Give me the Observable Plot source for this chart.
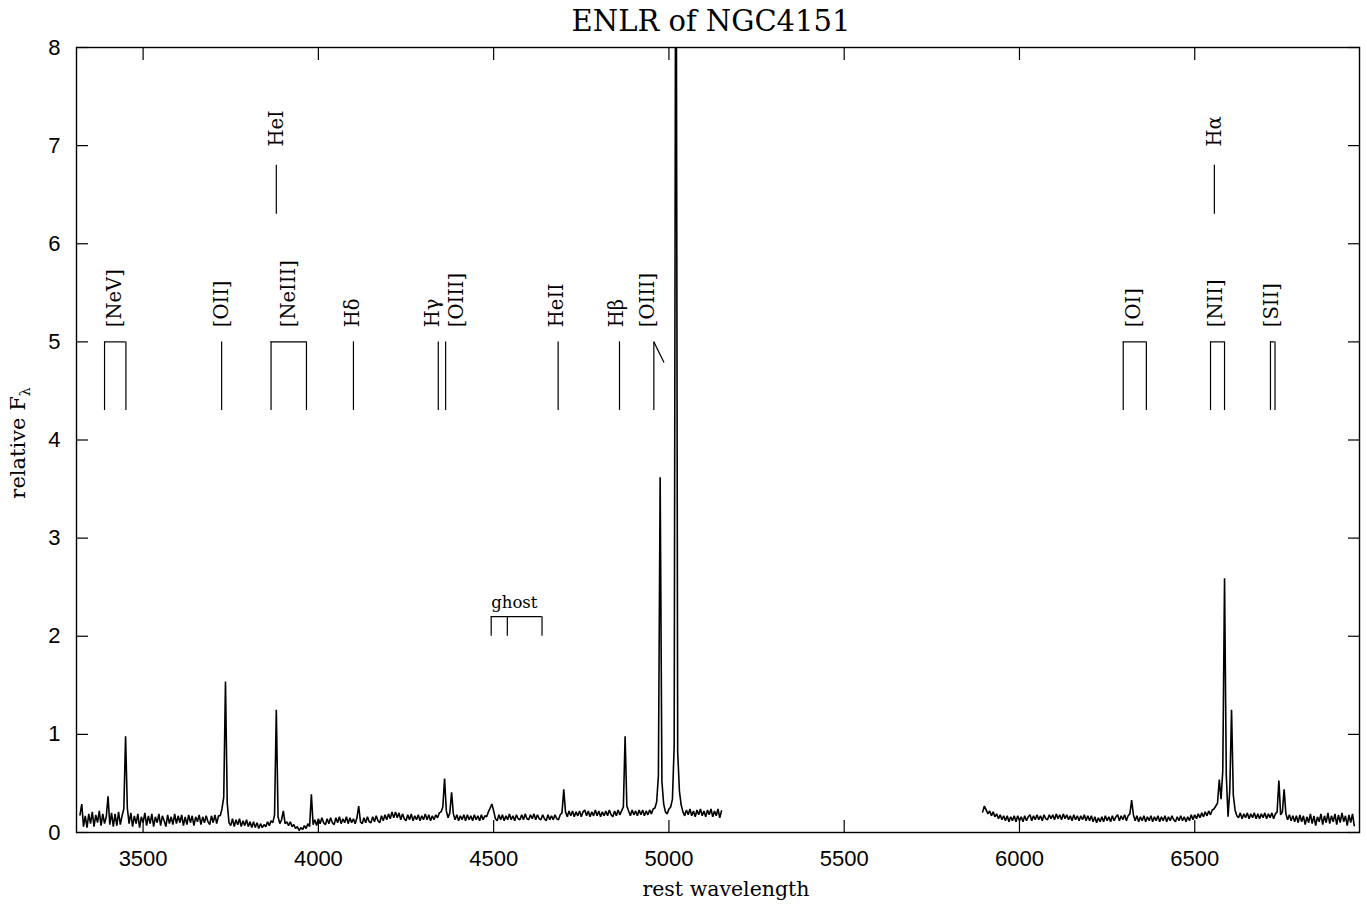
<!DOCTYPE html>
<html>
<head>
<meta charset="utf-8">
<script src="https://cdn.jsdelivr.net/npm/d3@7"></script>
<script src="https://cdn.jsdelivr.net/npm/@observablehq/plot@0.6"></script>
<style>
  html, body { margin: 0; padding: 0; background: #fff; }
</style>
</head>
<body>
<div id="chart"></div>
<script>
// ---- spectrum: flux sampled on a 5 Å pixel grid, two observed segments ----
const seg1Start = 3320;   // Å
const seg2Start = 5895;   // Å
const pixelStep = 5;      // Å per sample

const seg1Flux = [
  .18,.29,.06,.17,.05,.19,.09,.21,.06,.18,.10,.22,.07,.19,.09,.16,.37,.08,.20,.06, // 3320
  .19,.07,.21,.08,.17,.24,.98,.25,.09,.20,.06,.17,.09,.19,.05,.16,.10,.20,.07,.17, // 3420
  .09,.19,.06,.16,.10,.19,.07,.17,.12,.06,.18,.09,.16,.08,.19,.09,.17,.10,.18,.07, // 3520
  .16,.08,.18,.10,.17,.07,.16,.11,.18,.08,.16,.10,.17,.11,.08,.17,.10,.18,.09,.17, // 3620
  .17,.24,.36,1.54,.30,.10,.07,.14,.06,.13,.08,.14,.06,.12,.07,.13,.06,.11,.05,.11, // 3720
  .05,.10,.04,.09,.05,.08,.06,.11,.07,.12,.10,.18,1.25,.16,.09,.13,.22,.09,.11,.07, // 3820
  .11,.06,.08,.04,.06,.02,.05,.03,.07,.04,.09,.06,.39,.08,.13,.07,.14,.09,.15,.10, // 3920
  .08,.14,.09,.15,.10,.08,.15,.10,.16,.09,.14,.10,.16,.09,.15,.10,.14,.09,.15,.27, // 4020
  .11,.09,.15,.10,.16,.11,.10,.16,.11,.17,.12,.10,.17,.12,.18,.13,.19,.14,.21,.15, // 4120
  .21,.15,.20,.13,.19,.14,.12,.18,.13,.19,.12,.17,.13,.18,.12,.17,.13,.19,.13,.18, // 4220
  .12,.17,.13,.18,.15,.20,.21,.26,.55,.22,.15,.20,.41,.19,.13,.18,.12,.17,.13,.18, // 4320
  .12,.18,.13,.17,.12,.18,.13,.17,.12,.18,.13,.17,.16,.21,.25,.29,.22,.14,.12,.18, // 4420
  .13,.18,.12,.17,.13,.19,.13,.17,.12,.18,.14,.13,.18,.13,.19,.14,.13,.18,.14,.19, // 4520
  .13,.18,.14,.13,.18,.14,.12,.18,.13,.17,.13,.18,.14,.13,.18,.20,.44,.21,.16,.22, // 4620
  .17,.22,.16,.21,.17,.22,.16,.21,.23,.17,.22,.16,.21,.17,.23,.17,.22,.16,.21,.17, // 4720
  .22,.17,.23,.18,.16,.22,.17,.23,.18,.22,.26,.98,.27,.22,.17,.23,.18,.22,.17,.23, // 4820
  .18,.23,.17,.22,.18,.23,.19,.24,.25,.31,.58,3.62,.52,.29,.21,.19,.24,.26,.34,.88, // 4920
  11,.82,.42,.28,.21,.17,.23,.18,.24,.17,.22,.16,.23,.18,.24,.17,.22,.16,.23,.18,   // 5020
  .24,.16,.22,.17,.24,.15,.22                                                       // 5120
];

const seg2Flux = [
  .21,.27,.23,.19,.22,.17,.21,.16,.19,.14,.18,.13,.17,.12,.17,.11,.16,.12,.17,.11, // 5895
  .17,.12,.16,.11,.17,.12,.16,.18,.12,.17,.13,.18,.13,.17,.12,.18,.14,.13,.18,.14, // 5995
  .18,.13,.19,.14,.18,.13,.19,.14,.18,.13,.17,.12,.18,.13,.17,.12,.17,.13,.18,.12, // 6095
  .17,.12,.17,.11,.16,.10,.15,.11,.16,.11,.17,.12,.16,.11,.17,.12,.16,.18,.12,.17, // 6195
  .13,.18,.12,.17,.19,.33,.18,.12,.17,.11,.16,.12,.17,.11,.16,.12,.17,.11,.16,.12, // 6295
  .17,.11,.16,.12,.17,.11,.16,.12,.17,.13,.11,.16,.12,.17,.12,.16,.11,.16,.12,.18, // 6395
  .13,.18,.14,.19,.15,.20,.16,.21,.17,.22,.18,.23,.24,.27,.30,.54,.34,.63,2.59,.58, // 6495
  .16,.43,1.25,.38,.23,.17,.15,.20,.14,.19,.15,.20,.14,.19,.15,.20,.14,.19,.14,.19, // 6595
  .15,.20,.14,.19,.15,.20,.14,.19,.21,.53,.18,.21,.44,.19,.13,.18,.12,.17,.11,.17, // 6695
  .10,.18,.11,.17,.08,.16,.10,.19,.09,.17,.07,.16,.11,.19,.08,.17,.10,.20,.09,.17, // 6795
  .11,.19,.08,.18,.10,.20,.11,.17,.07,.18,.10,.19,.07                              // 6895
];

// ---- axes ----
const xTicks = [3500, 4000, 4500, 5000, 5500, 6000, 6500];
const yTicks = [0, 1, 2, 3, 4, 5, 6, 7, 8];

// ---- line identifications (main row) ----
const idNames   = ["[NeV]", "[OII]", "[NeIII]", "Hδ", "Hγ", "[OIII]", "HeII", "Hβ", "[OIII]", "[OI]", "[NII]", "[SII]"];
const idLabelWl = [3420, 3723, 3915, 4097, 4325, 4396, 4681, 4850, 4939, 6325, 6559, 6721];
const idLines   = [[3390, 3451], [3724], [3865, 3966], [4100], [4342], [4363], [4684], [4859], [4957], [6296, 6362], [6545, 6585], [6716, 6729]];
const idLow = 4.3, idHigh = 5.0, idLabelY = 5.15;
const oiiiSlant = [4957, 5.0, 4986, 4.79];

// ---- upper row (HeI, Hα) ----
const upNames = ["HeI", "Hα"];
const upLines = [3880, 6556];
const upLow = 6.3, upHigh = 6.8, upLabelY = 6.99;

// ---- ghost bracket ----
const ghostLines = [4493, 4539, 4638];
const ghostLow = 2.0, ghostHigh = 2.2, ghostLabelWl = 4559, ghostLabelY = 2.345;

// ---- build tables ----
const spectrum = [
  ...seg1Flux.map((f, i) => ({seg: 1, wl: seg1Start + i * pixelStep, flux: f})),
  ...seg2Flux.map((f, i) => ({seg: 2, wl: seg2Start + i * pixelStep, flux: f}))
];
const idTicks = idLines.flat().map(wl => ({wl}));
const idBoxes = idLines.filter(l => l.length > 1).map(l => ({a: l[0], b: l[l.length - 1]}));
const idLabels = idNames.map((n, i) => ({name: n, wl: idLabelWl[i]}));
const upRows = upNames.map((n, i) => ({name: n, wl: upLines[i]}));

const serif = "DejaVu Serif";
const sans = "Liberation Sans";

const plot = Plot.plot({
  width: 1367,
  height: 906,
  marginLeft: 76,
  marginRight: 8,
  marginTop: 47,
  marginBottom: 74,
  style: {fontFamily: sans, fontSize: "22px", background: "#fff", color: "#000"},
  x: {domain: [3310, 6970]},
  y: {domain: [0, 8]},
  marks: [
    Plot.frame({stroke: "#000", strokeWidth: 1.4}),
    Plot.axisX({anchor: "bottom", ticks: xTicks, tickSize: -12, tickPadding: 30, tickFormat: d => String(d), label: null, fontSize: 22, strokeWidth: 1.2}),
    Plot.axisX({anchor: "top", ticks: xTicks, tickSize: -12, tickFormat: () => "", label: null, strokeWidth: 1.2}),
    Plot.axisY({anchor: "left", ticks: yTicks, tickSize: -12, tickPadding: 28, tickFormat: d => String(d), label: null, fontSize: 22, strokeWidth: 1.2}),
    Plot.axisY({anchor: "right", ticks: yTicks, tickSize: -12, tickFormat: () => "", label: null, strokeWidth: 1.2}),

    Plot.line(spectrum, {x: "wl", y: "flux", z: "seg", stroke: "#000", strokeWidth: 1.6, strokeLinejoin: "miter", clip: true}),

    // identifications
    Plot.ruleX(idTicks, {x: "wl", y1: idLow, y2: idHigh, stroke: "#000", strokeWidth: 1.2}),
    Plot.ruleY(idBoxes, {y: idHigh, x1: "a", x2: "b", stroke: "#000", strokeWidth: 1.2}),
    Plot.link([oiiiSlant], {x1: d => d[0], y1: d => d[1], x2: d => d[2], y2: d => d[3], stroke: "#000", strokeWidth: 1.2}),
    Plot.text(idLabels, {x: "wl", y: idLabelY, text: "name", rotate: -90, textAnchor: "start", lineAnchor: "middle", fontFamily: serif, fontSize: 19.5, fill: "#000"}),

    Plot.ruleX(upRows, {x: "wl", y1: upLow, y2: upHigh, stroke: "#000", strokeWidth: 1.2}),
    Plot.text(upRows, {x: "wl", y: upLabelY, text: "name", rotate: -90, textAnchor: "start", lineAnchor: "middle", fontFamily: serif, fontSize: 19.5, fill: "#000"}),

    Plot.ruleX(ghostLines, {x: d => d, y1: ghostLow, y2: ghostHigh, stroke: "#000", strokeWidth: 1.2}),
    Plot.ruleY([ghostHigh], {y: d => d, x1: ghostLines[0], x2: ghostLines[ghostLines.length - 1], stroke: "#000", strokeWidth: 1.2}),
    Plot.text(["ghost"], {x: ghostLabelWl, y: ghostLabelY, text: d => d, lineAnchor: "middle", fontFamily: serif, fontSize: 16.5, fill: "#000"}),

    // titles
    Plot.text(["ENLR of NGC4151"], {text: d => d, frameAnchor: "top", lineAnchor: "middle", dy: -26, dx: -7, fontFamily: serif, fontSize: 29, fill: "#000"}),
    Plot.text(["rest wavelength"], {text: d => d, frameAnchor: "bottom", lineAnchor: "middle", dy: 57, dx: 8, fontFamily: serif, fontSize: 20.5, fill: "#000"})
  ]
});

// y-axis label with subscript lambda
const yl = d3.select(plot).append("text")
  .attr("transform", "translate(25,443) rotate(-90)")
  .attr("text-anchor", "middle")
  .attr("font-family", serif)
  .attr("font-size", 21)
  .attr("fill", "#000");
yl.append("tspan").text("relative F");
yl.append("tspan").attr("font-size", 14).attr("dy", 5).text("λ");

document.getElementById("chart").appendChild(plot);
</script>
</body>
</html>
